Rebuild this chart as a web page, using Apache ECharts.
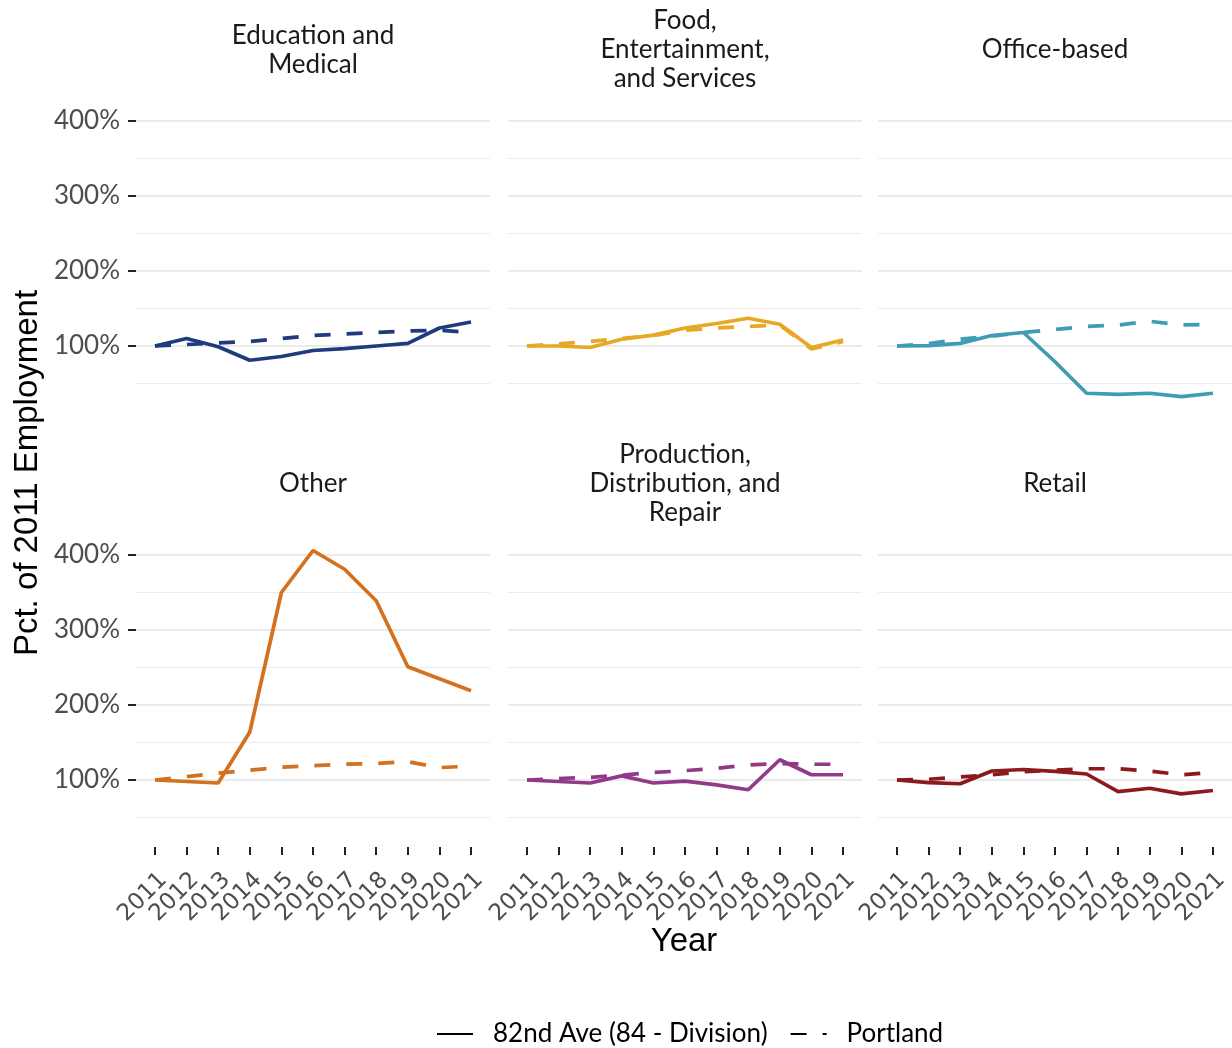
<!DOCTYPE html>
<html><head><meta charset="utf-8">
<script src="https://cdn.jsdelivr.net/npm/echarts@6/dist/echarts.min.js"></script>
<style>html,body{margin:0;padding:0;background:#fff}#c{width:1232px;height:1048px}</style>
</head><body><div id="c"></div>
<script>
// ---- data ----
const years = ['2011','2012','2013','2014','2015','2016','2017','2018','2019','2020','2021'];
const facetTitles = ['Education and\nMedical','Food,\nEntertainment,\nand Services','Office-based','Other','Production,\nDistribution, and\nRepair','Retail'];
const facetColors = ['#1f3b7e','#e7a823','#3e9db4','#d4711f','#923a88','#8b1a1e'];
const yTickValues = [100,200,300,400];
const seriesNames = ['82nd Ave (84 - Division)','Portland'];

const eduAve  = [100,110,99,81,86,94,96.5,100,103.5,124,132];
const eduPdx  = [100,102,104,106,110,114,116,118,120,121,118];
const foodAve = [100,100,98,109,114.5,124,130,137,129,98,108];
const foodPdx = [100,103,106,110,114,121,124,126,128,96,106];
const officeAve = [100,100.5,103.5,114,118,79,37,35.5,37,32.5,37];
const officePdx = [100,103,109,113,118,122,126,128,133,128,129];
const otherAve = [100,98,96,164,350,406,381,339,251,235,219];
const otherPdx = [100,104.5,109,113,117,119,121,122,124.5,116.5,118.5];
const prodAve = [100,98,96,105.5,96,98.5,93.5,87,127,107,107];
const prodPdx = [100,102,103.5,106.5,110,112.5,115.5,120,122,121,121];
const retailAve = [100,96.5,95,112,114,111.5,108,84.5,89,81.5,86];
const retailPdx = [100,101,104,107,111,113,115,115,112,107,110];

const aveSets = [eduAve, foodAve, officeAve, otherAve, prodAve, retailAve];
const pdxSets = [eduPdx, foodPdx, officePdx, otherPdx, prodPdx, retailPdx];

// ---- layout ----
const FONT = 'Lato';
const colLeft = [136, 508, 878];
const colW = 354;
const pad = 19;
const rowTop = [83.5, 517.5];
const rowH = 337.5;
const YMAX = 450;

const grids = [], xAxes = [], yAxes = [], series = [], graphics = [];
// panel grids (gridlines + y labels): indices 0..5
for (let f = 0; f < 6; f++) {
  const col = f % 3, row = Math.floor(f / 3);
  grids.push({left: colLeft[col], top: rowTop[row], width: colW, height: rowH});
  xAxes.push({type: 'value', gridIndex: f, min: 0, max: 1, show: false});
  yAxes.push({
    type: 'value', gridIndex: f, min: 0, max: YMAX,
    axisLine: {show: false}, splitLine: {show: false},
    axisTick: {show: col === 0, customValues: yTickValues, length: 8, lineStyle: {color: '#222', width: 2}},
    axisLabel: {show: col === 0, customValues: yTickValues, formatter: v => v + '%', margin: 16,
      fontFamily: FONT, fontSize: 26, color: '#4d4d4d'}
  });
  yAxes.push({
    type: 'value', gridIndex: f, min: 0, max: YMAX, interval: 100,
    axisLine: {show: false}, axisTick: {show: false}, axisLabel: {show: false},
    splitLine: {show: true, showMinLine: false, showMaxLine: false, lineStyle: {color: '#e9e9e9', width: 2}}
  });
  yAxes.push({
    type: 'value', gridIndex: f, min: 0, max: YMAX, interval: 50,
    axisLine: {show: false}, axisTick: {show: false}, axisLabel: {show: false},
    splitLine: {show: true, showMinLine: false, showMaxLine: false, lineStyle: {color: '#ececec', width: 1}}
  });
  graphics.push({
    type: 'text', x: colLeft[col] + colW / 2, y: row === 0 ? 50 : 484,
    style: {text: facetTitles[f], textAlign: 'center', textVerticalAlign: 'middle',
      font: '26px ' + FONT, lineHeight: 29, fill: '#1a1a1a'}
  });
}
// data grids: indices 6..11
const dataY = [];
for (let f = 0; f < 6; f++) {
  const col = f % 3, row = Math.floor(f / 3);
  const g = 6 + f;
  grids.push({left: colLeft[col] + pad, top: rowTop[row], width: colW - 2 * pad, height: rowH});
  xAxes.push({
    type: 'category', gridIndex: g, data: years, boundaryGap: false,
    axisLine: {show: false}, splitLine: {show: false},
    axisTick: {show: row === 1, inside: true, length: 8, interval: 0, lineStyle: {color: '#222', width: 2}},
    axisLabel: {show: row === 1, interval: 0, rotate: 45, margin: 13, lineHeight: 24,
      formatter: v => '\n' + v,
      fontFamily: 'DejaVu Sans', fontSize: 23, color: '#4d4d4d'}
  });
  yAxes.push({type: 'value', gridIndex: g, min: 0, max: YMAX, show: false, splitLine: {show: false}});
  const yi = yAxes.length - 1;
  dataY.push(yi);
  series.push({
    name: 'ave_' + f, type: 'line', xAxisIndex: g, yAxisIndex: yi, symbol: 'none', silent: true,
    data: aveSets[f], color: facetColors[f], lineStyle: {color: facetColors[f], width: 3.7}
  });
  series.push({
    name: 'pdx_' + f, type: 'line', xAxisIndex: g, yAxisIndex: yi, symbol: 'none', silent: true,
    data: pdxSets[f], color: facetColors[f], lineStyle: {color: facetColors[f], width: 3.7, type: [16, 16]}
  });
}
// legend dummy series (on grid 6)
series.push({name: seriesNames[0], type: 'line', xAxisIndex: 6, yAxisIndex: dataY[0], symbol: 'none', data: [],
  color: '#000', lineStyle: {color: '#000', width: 4}});
series.push({name: seriesNames[1], type: 'line', xAxisIndex: 6, yAxisIndex: dataY[0], symbol: 'none', data: [],
  color: '#000', lineStyle: {color: '#000', width: 4, type: [16, 16]}});

graphics.push({type: 'text', x: 684, y: 942,
  style: {text: 'Year', textAlign: 'center', textVerticalAlign: 'middle', font: '33px "Liberation Sans"', fill: '#000'}});
graphics.push({type: 'text', x: 28, y: 473, rotation: Math.PI / 2,
  style: {text: 'Pct. of 2011 Employment', textAlign: 'center', textVerticalAlign: 'middle', font: '33px "Liberation Sans"', fill: '#000'}});

const chart = echarts.init(document.getElementById('c'), null, {renderer: 'canvas'});
chart.setOption({
  backgroundColor: '#fff',
  animation: false,
  grid: grids, xAxis: xAxes, yAxis: yAxes, series: series,
  graphic: graphics,
  legend: {
    data: seriesNames, left: 431, top: 1016, itemWidth: 36, itemHeight: 20, itemGap: 22,
    itemStyle: {color: 'rgba(0,0,0,0)', borderColor: 'rgba(0,0,0,0)', borderWidth: 0, opacity: 0},
    textStyle: {fontFamily: FONT, fontSize: 26, color: '#000', padding: [0, 0, 0, 15]}
  }
});
</script></body></html>
